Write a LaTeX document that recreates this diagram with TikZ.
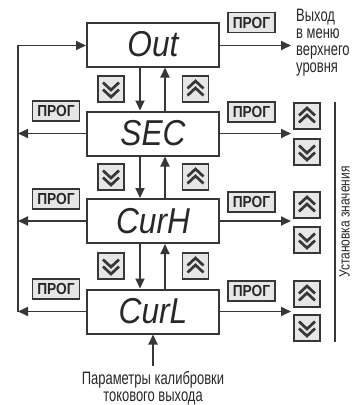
\documentclass[tikz,border=0pt]{standalone}
\usepackage{fontspec}
\setmainfont{Liberation Sans}
\newfontfamily\narrowfont[FakeStretch=0.72]{Liberation Sans}
\newfontfamily\rotfont[FakeStretch=0.8]{Liberation Sans}
\newfontfamily\progfont[FakeStretch=0.86]{Liberation Sans}
\newfontfamily\boxfont[FakeStretch=0.88]{Liberation Sans}
\usetikzlibrary{arrows.meta,calc}
\definecolor{dk}{RGB}{55,55,55}
\definecolor{txt}{RGB}{40,40,40}
\definecolor{btnfill}{RGB}{230,230,230}
\tikzset{
  menubox/.style={draw=dk, line width=2pt, minimum width=132pt, minimum height=44pt, inner sep=0pt,
    font={\boxfont\itshape\fontsize{36}{38}\selectfont}, text=txt},
  progbtn/.style={draw=dk, fill=btnfill, line width=1.8pt, minimum width=47pt, minimum height=20pt,
    inner sep=0pt, font={\progfont\bfseries\fontsize{16}{16}\selectfont}, text=txt},
  chevbtn/.style={draw=dk, fill=btnfill, line width=1.8pt, minimum width=26pt, minimum height=26pt, inner sep=0pt},
  chev/.style={draw=dk, line width=2.7pt, line join=miter},
  downbtn/.style={chevbtn, path picture={
    \coordinate (pc) at (path picture bounding box.center);
    \draw[chev] ($(pc)+(-8,0.5)$) -- ($(pc)+(0,8)$) -- ($(pc)+(8,0.5)$);
    \draw[chev] ($(pc)+(-8,-6.5)$) -- ($(pc)+(0,1)$) -- ($(pc)+(8,-6.5)$);}},
  upbtn/.style={chevbtn, path picture={
    \coordinate (pc) at (path picture bounding box.center);
    \draw[chev] ($(pc)+(-8,-0.5)$) -- ($(pc)+(0,-8)$) -- ($(pc)+(8,-0.5)$);
    \draw[chev] ($(pc)+(-8,6.5)$) -- ($(pc)+(0,-1)$) -- ($(pc)+(8,6.5)$);}},
  conn/.style={draw=dk, line width=1.8pt},
  arr/.style={conn, -{Triangle[length=10pt,width=9pt]}},
  lbl/.style={inner sep=0pt, text=txt, font={\narrowfont\fontsize{18}{17}\selectfont}},
}
\begin{document}
\begin{tikzpicture}[x=1pt,y=-1pt]
\useasboundingbox (0,0) rectangle (354,405);
% main boxes
\node[menubox] (Out)  at (153,44.5) {Out};
\node[menubox] (SEC)  at (153,133.5) {SEC};
\node[menubox] (CurH) at (153,221) {CurH};
\node[menubox] (CurL) at (153,311.5) {CurL};
% helper coordinates
\coordinate (dx) at (140,0);
\coordinate (ux) at (165,0);
\coordinate (lt) at (18,45.5);
\coordinate (lb) at (18,312);
\coordinate (rx) at (291,0);
% vertical arrows between boxes
\draw[arr] (Out.south -| dx) -- (SEC.north -| dx);
\draw[arr] (SEC.north -| ux) -- (Out.south -| ux);
\draw[arr] (SEC.south -| dx) -- (CurH.north -| dx);
\draw[arr] (CurH.north -| ux) -- (SEC.south -| ux);
\draw[arr] (CurH.south -| dx) -- (CurL.north -| dx);
\draw[arr] (CurL.north -| ux) -- (CurH.south -| ux);
% left return line
\draw[arr] (lb) -- (lt) -- (lt -| Out.west);
\draw[arr] (SEC.west) -- (SEC.west -| lt);
\draw[arr] (CurH.west) -- (CurH.west -| lt);
\draw[arr] (CurL.west) -- (CurL.west -| lt);
% right arrows
\draw[arr] (lt -| Out.east) -- (lt -| rx);
\draw[arr] (SEC.east) -- (SEC.east -| rx);
\draw[arr] (CurH.east) -- (CurH.east -| rx);
\draw[arr] (CurL.east) -- (CurL.east -| rx);
% PROG buttons
\node[progbtn] (pOutR)  at (251.5,22.5) {ПРОГ};
\node[progbtn] (pSECL)  at (56,111) {ПРОГ};
\node[progbtn] (pSECR)  at (251.5,112) {ПРОГ};
\node[progbtn] (pCurHL) at (56,199) {ПРОГ};
\node[progbtn] (pCurHR) at (251.5,202) {ПРОГ};
\node[progbtn] (pCurLL) at (56,289) {ПРОГ};
\node[progbtn] (pCurLR) at (251.5,291) {ПРОГ};
% chevron buttons between boxes
\node[downbtn] (d1) at (111,89) {};
\node[upbtn]   (u1) at (195.5,89) {};
\node[downbtn] (d2) at (111,177) {};
\node[upbtn]   (u2) at (195.5,177) {};
\node[downbtn] (d3) at (111,266) {};
\node[upbtn]   (u3) at (195.5,266) {};
% right chevron pairs
\node[upbtn]   (ru1) at (307,116) {};
\node[downbtn] (rd1) at (307,152) {};
\node[upbtn]   (ru2) at (307,205) {};
\node[downbtn] (rd2) at (307,240) {};
\node[upbtn]   (ru3) at (307,294) {};
\node[downbtn] (rd3) at (307,328) {};
% right bracket line and label
\coordinate (vt) at (335,102);
\coordinate (vb) at (335,342);
\draw[conn] (vt) -- (vb);
\node[lbl, rotate=90, font={\rotfont\fontsize{15}{16}\selectfont}] (setv) at (344.5,222) {Установка значения};
% exit text
\node[lbl, align=left, anchor=north west] (exit) at (296,9) {Выход\\в меню\\верхнего\\уровня};
% bottom text and arrow
\node[lbl, align=center, anchor=north] (calib) at (153,371) {Параметры калибровки\\токового выхода};
\coordinate (bt) at (153,366);
\draw[arr] (bt) -- (CurL.south);
\end{tikzpicture}
\end{document}
